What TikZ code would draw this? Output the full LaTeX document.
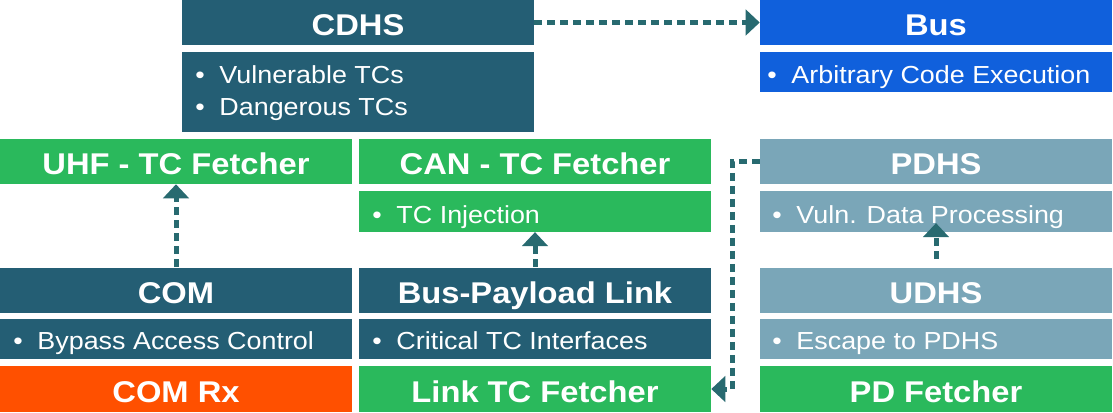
\documentclass[tikz,border=0pt]{standalone}
\usepackage{fontspec}
\setmainfont{Liberation Sans}[FakeStretch=1.09]
\usetikzlibrary{arrows.meta}

\definecolor{darkteal}{RGB}{36,94,116}
\definecolor{busblue}{RGB}{16,96,220}
\definecolor{fetchgreen}{RGB}{42,185,92}
\definecolor{paygrey}{RGB}{122,166,184}
\definecolor{rxorange}{RGB}{255,80,0}
\definecolor{flowteal}{RGB}{40,106,112}

\begin{document}
\begin{tikzpicture}[x=0.75pt, y=-0.75pt,
        titlebox/.style={fill=#1, text=white, inner sep=0pt, minimum width=264pt, minimum height=33.75pt,
            text height=20pt, text depth=0pt, font=\fontsize{22.5}{27}\selectfont\bfseries},
        bodybox/.style={fill=#1, inner sep=0pt, minimum width=264pt, minimum height=30.5pt},
        itemtext/.style={anchor=base west, inner sep=0pt, text=white, font=\fontsize{18.5}{22}\selectfont},
        flow/.style={draw=flowteal, line width=3.75pt, dash pattern=on 6pt off 3.75pt,
            -{Triangle[length=10.5pt, width=19pt]}}]
        \useasboundingbox (0,0) rectangle (1113,412);
        \draw
            (358, 22.5) node (cdhs) [titlebox=darkteal] {CDHS}
            (358, 92) node (cdhsbody) [bodybox=darkteal, minimum height=60pt] {}
            (936, 22.5) node (bus) [titlebox=busblue] {Bus}
            (936, 72) node (busbody) [bodybox=busblue] {}

            (176, 161.5) node (uhf) [titlebox=fetchgreen] {UHF - TC Fetcher}
            (535, 161.5) node (can) [titlebox=fetchgreen] {CAN - TC Fetcher}
            (535, 211.5) node (canbody) [bodybox=fetchgreen] {}
            (936, 161.5) node (pdhs) [titlebox=paygrey] {PDHS}
            (936, 211.5) node (pdhsbody) [bodybox=paygrey] {}

            (176, 290) node (com) [titlebox=darkteal] {COM}
            (176, 339) node (combody) [bodybox=darkteal] {}
            (535, 290) node (bpl) [titlebox=darkteal] {Bus-Payload Link}
            (535, 339) node (bplbody) [bodybox=darkteal] {}
            (936, 290) node (udhs) [titlebox=paygrey] {UDHS}
            (936, 339) node (udhsbody) [bodybox=paygrey] {}

            (176, 389) node (comrx) [titlebox=rxorange, minimum height=34.5pt] {COM Rx}
            (535, 389) node (linktc) [titlebox=fetchgreen, minimum height=34.5pt] {Link TC Fetcher}
            (936, 389) node (pdf) [titlebox=fetchgreen, minimum height=34.5pt] {PD Fetcher}

            (195, 83) node (vulntc) [itemtext] {\textbullet\hspace{0.6em}Vulnerable TCs}
            (195, 115) node (dangtc) [itemtext] {\textbullet\hspace{0.6em}Dangerous TCs}
            (767, 83) node (ace) [itemtext] {\textbullet\hspace{0.6em}Arbitrary Code Execution}
            (372, 223) node (tcinj) [itemtext] {\textbullet\hspace{0.6em}TC Injection}
            (772, 223) node (vulndp) [itemtext] {\textbullet\hspace{0.6em}Vuln. Data Processing}
            (13, 349) node (bypass) [itemtext] {\textbullet\hspace{0.6em}Bypass Access Control}
            (372, 349) node (crittc) [itemtext] {\textbullet\hspace{0.6em}Critical TC Interfaces}
            (772, 349) node (escape) [itemtext] {\textbullet\hspace{0.6em}Escape to PDHS}

            (cdhs) edge [flow] (bus)
            (com) edge [flow] (uhf)
            (bpl) edge [flow] (canbody)
            (udhs) edge [flow, shorten <=6pt, shorten >=-6.75pt] (pdhsbody)
        ;
        \coordinate (turn) at (732, 161.5);
        \draw [flow] (pdhs.west) -- (turn) |- (linktc.east);
    \end{tikzpicture}
\end{document}
